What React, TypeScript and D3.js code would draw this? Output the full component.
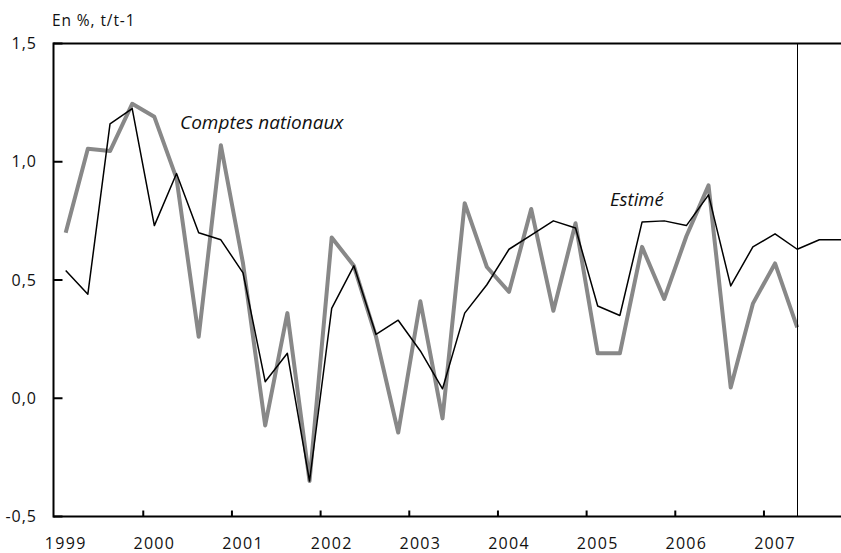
import React from "react";
import * as d3 from "d3";

const years = [2000, 2001, 2002, 2003, 2004, 2005, 2006, 2007];
const yearLabels = ["1999", "2000", "2001", "2002", "2003", "2004", "2005", "2006", "2007"];
const yTicks = [-0.5, 0, 0.5, 1.0, 1.5];
const yTickLabels = ["-0,5", "0,0", "0,5", "1,0", "1,5"];

// quarterly series, starting 1999 Q1
const estime = [
  0.54, 0.44, 1.16, 1.225, 0.73, 0.95, 0.70, 0.67, 0.53, 0.07, 0.19, -0.35,
  0.38, 0.56, 0.27, 0.33, 0.20, 0.04, 0.36, 0.48, 0.63, 0.69, 0.75, 0.72,
  0.39, 0.35, 0.745, 0.75, 0.73, 0.86, 0.475, 0.64, 0.695, 0.63, 0.67, 0.67,
];
const comptes = [
  0.70, 1.055, 1.045, 1.245, 1.19, 0.93, 0.26, 1.07, 0.57, -0.115, 0.36, -0.35,
  0.68, 0.56, 0.26, -0.145, 0.41, -0.085, 0.825, 0.555, 0.45, 0.80, 0.37, 0.74,
  0.19, 0.19, 0.64, 0.42, 0.685, 0.90, 0.045, 0.40, 0.57, 0.30,
];

const W = 841;
const H = 553;
const left = 53.5;
const top = 43.5;
const bottom = 516.5;
const FONT = "'Open Sans', Lato, sans-serif";

export default function App() {
  const x = d3.scaleLinear().domain([1999, 2008]).range([54.6, 54.6 + 9 * 88.67]);
  const y = d3.scaleLinear().domain([-0.5, 1.5]).range([bottom, top]);
  const qx = (i: number) => x(1999 + (i + 0.5) / 4);

  const line = d3
    .line<number>()
    .x((_, i) => qx(i))
    .y((d) => y(d));

  const vx = Math.round(qx(comptes.length - 1)) + 0.5;

  return (
    <svg
      width={W}
      height={H}
      style={{ position: "absolute", left: 0, top: 0, background: "#fff" }}
      fontFamily={FONT}
    >
      <defs>
        <clipPath id="plot">
          <rect x={left} y={0} width={W - left} height={H} />
        </clipPath>
      </defs>
      <text x={52} y={26} fontSize={15.5} letterSpacing={0.9} fill="#111">En %, t/t-1</text>

      {/* y ticks and labels */}
      {yTicks.map((t, i) => (
        <g key={t}>
          <line x1={left} x2={left + 9} y1={y(t)} y2={y(t)} stroke="#000" strokeWidth={2} />
          <text x={37} y={y(t) + 5.5} fontSize={16} letterSpacing={1} textAnchor="end" fill="#111">
            {yTickLabels[i]}
          </text>
        </g>
      ))}

      {/* x ticks */}
      {years.map((yr) => (
        <line key={yr} x1={x(yr)} x2={x(yr)} y1={bottom} y2={bottom - 6} stroke="#000" strokeWidth={2} />
      ))}
      {yearLabels.map((lab) => (
        <text
          key={lab}
          x={x(+lab + 0.125)}
          y={548.5}
          fontSize={16}
          letterSpacing={1.3}
          textAnchor="middle"
          fill="#111"
        >
          {lab}
        </text>
      ))}

      <g clipPath="url(#plot)">
        <path d={line(comptes) || ""} fill="none" stroke="#888" strokeWidth={4} strokeLinejoin="round" />
        <path d={line(estime) || ""} fill="none" stroke="#000" strokeWidth={1.5} strokeLinejoin="round" />
      </g>

      <line x1={vx} x2={vx} y1={top} y2={bottom} stroke="#000" strokeWidth={1} />

      {/* axes frame */}
      <line x1={left} x2={W} y1={top} y2={top} stroke="#000" strokeWidth={2} />
      <line x1={left} x2={W} y1={bottom} y2={bottom} stroke="#000" strokeWidth={2} />
      <line x1={left} x2={left} y1={top - 1} y2={bottom + 1} stroke="#000" strokeWidth={2} />

      <text x={180} y={129} fontSize={19} fontStyle="italic" fill="#111">Comptes nationaux</text>
      <text x={610} y={206} fontSize={18.5} fontStyle="italic" fill="#111">Estimé</text>
    </svg>
  );
}
